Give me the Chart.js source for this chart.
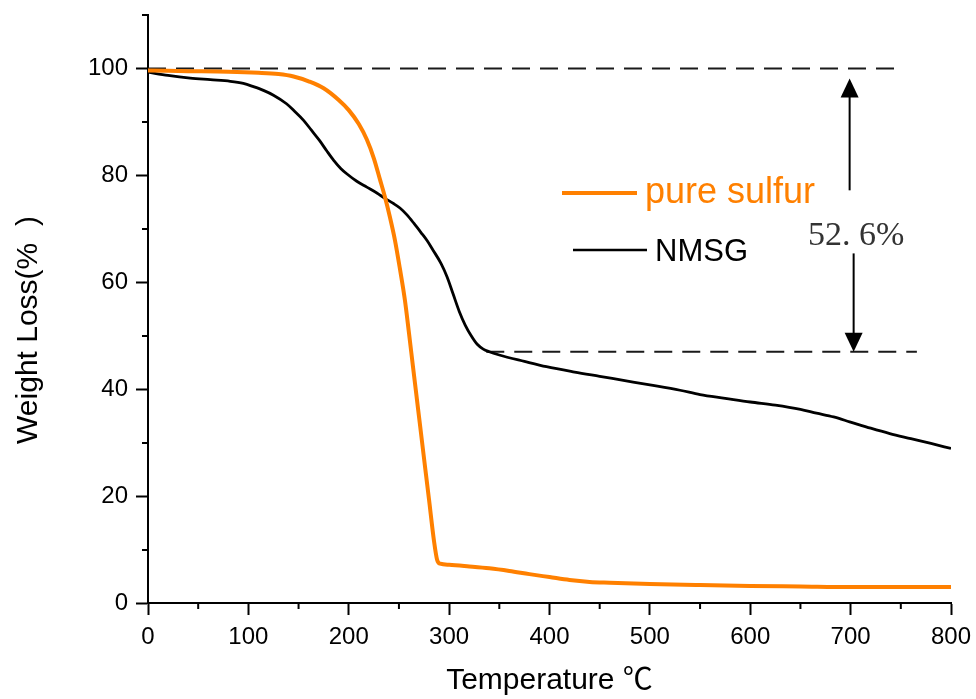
<!DOCTYPE html>
<html>
<head>
<meta charset="utf-8">
<title>TGA curves</title>
<script src="https://cdn.jsdelivr.net/npm/chart.js@4.4.0/dist/chart.umd.min.js"></script>
<style>
  html, body { margin: 0; padding: 0; background: #fff; }
  #wrap { width: 976px; height: 699px; }
</style>
</head>
<body>
<div id="wrap"><canvas id="tgaChart"></canvas></div>
<script>
// values
const sulfurTemp = [0, 40, 80, 110, 130, 145, 160, 175, 190, 200, 210, 218, 225, 231, 236, 241, 246, 251, 256, 260, 264, 269, 274, 280, 285, 288, 291, 300, 320, 340, 360, 380, 400, 420, 440, 460, 500, 550, 600, 650, 700, 800];
const sulfurWeight = [99.6, 99.5, 99.4, 99.2, 98.95, 98.5, 97.6, 96.3, 94.1, 92.2, 89.6, 86.7, 83.2, 79.3, 76.0, 72.2, 67.9, 62.5, 56.6, 50.5, 44.2, 36.4, 28.6, 19.3, 11.5, 8.1, 7.35, 7.15, 6.85, 6.5, 6.0, 5.4, 4.85, 4.3, 3.95, 3.8, 3.55, 3.35, 3.2, 3.1, 3.0, 3.0];

const nmsgTemp = [0, 20, 42, 62, 82, 95, 105, 115, 125, 138, 146, 155, 163, 171, 178, 185, 192, 198, 208, 218, 228, 236, 244, 251, 258, 265, 272, 278, 284, 292, 298, 304, 310, 316, 322, 328, 334, 340, 350, 375, 397, 425, 450, 475, 500, 530, 550, 575, 600, 625, 650, 666, 683, 699, 720, 739, 760, 780, 800];
const nmsgWeight = [99.3, 98.7, 98.2, 97.9, 97.6, 97.2, 96.6, 95.9, 95.0, 93.4, 92.0, 90.3, 88.4, 86.5, 84.6, 82.8, 81.3, 80.3, 78.9, 77.8, 76.7, 75.7, 74.8, 73.9, 72.6, 71.0, 69.3, 67.8, 66.0, 63.5, 61.0, 57.8, 54.6, 52.0, 50.0, 48.4, 47.5, 47.0, 46.4, 45.2, 44.2, 43.2, 42.4, 41.6, 40.8, 39.8, 39.0, 38.3, 37.6, 37.0, 36.2, 35.5, 34.8, 33.9, 32.7, 31.7, 30.75, 29.85, 28.9];

const xTickValues = [0, 100, 200, 300, 400, 500, 600, 700, 800];
const yTickValues = [0, 20, 40, 60, 80, 100];
const xMinorTicks = [50, 150, 250, 350, 450, 550, 650, 750];
const yMinorTicks = [10, 30, 50, 70, 90, 110];

// annotation: dashed levels and the 52.6% arrows
const topDashX = [0, 744];
const topDashY = [100, 100];
const lowDashX = [337, 766];
const lowDashY = [47, 47];
const arrowUp = [699, 77.2, 98.1];   // x, tail, tip
const arrowDown = [703, 65.4, 47.0]; // x, tail, tip
const lossLabel = '52. 6%';

const ORANGE = '#FF8000';
const toPoints = (xs, ys) => xs.map((x, i) => ({ x: x, y: ys[i] }));

const drawArrow = (ctx, xs, ys, a) => {
  const px = xs.getPixelForValue(a[0]);
  const tail = ys.getPixelForValue(a[1]);
  const tip = ys.getPixelForValue(a[2]);
  const dir = tip < tail ? 1 : -1;
  ctx.beginPath();
  ctx.moveTo(px, tail);
  ctx.lineTo(px, tip + dir * 14);
  ctx.stroke();
  ctx.beginPath();
  ctx.moveTo(px, tip);
  ctx.lineTo(px - 9, tip + dir * 19);
  ctx.lineTo(px + 9, tip + dir * 19);
  ctx.closePath();
  ctx.fill();
};

const extras = {
  id: 'extras',
  afterDraw(chart) {
    const ctx = chart.ctx;
    const xs = chart.scales.x;
    const ys = chart.scales.y;
    const area = chart.chartArea;
    ctx.save();

    // minor ticks
    ctx.strokeStyle = '#000';
    ctx.lineWidth = 2;
    ctx.beginPath();
    xMinorTicks.forEach(v => {
      const px = xs.getPixelForValue(v);
      ctx.moveTo(px, area.bottom);
      ctx.lineTo(px, area.bottom + 6);
    });
    yMinorTicks.forEach(v => {
      const py = Math.round(ys.getPixelForValue(v));
      ctx.moveTo(area.left, py);
      ctx.lineTo(area.left - 6, py);
    });
    ctx.stroke();

    // arrows
    ctx.strokeStyle = '#000';
    ctx.fillStyle = '#000';
    ctx.lineWidth = 2;
    drawArrow(ctx, xs, ys, arrowUp);
    drawArrow(ctx, xs, ys, arrowDown);

    ctx.fillStyle = '#333';
    ctx.font = '34px "Liberation Serif", "DejaVu Serif", serif';
    ctx.textAlign = 'left';
    ctx.textBaseline = 'alphabetic';
    ctx.fillText(lossLabel, 808, 245);

    // legend
    const ds = chart.data.datasets;
    ctx.strokeStyle = ds[0].borderColor;
    ctx.lineWidth = 4;
    ctx.beginPath();
    ctx.moveTo(562, 193);
    ctx.lineTo(637, 193);
    ctx.stroke();
    ctx.fillStyle = ds[0].borderColor;
    ctx.font = '36px "Liberation Sans", Arial, sans-serif';
    ctx.fillText(ds[0].label, 645, 203);

    ctx.strokeStyle = ds[1].borderColor;
    ctx.lineWidth = 2.5;
    ctx.beginPath();
    ctx.moveTo(573, 250);
    ctx.lineTo(647, 250);
    ctx.stroke();
    ctx.fillStyle = '#000';
    ctx.font = '31px "Liberation Sans", Arial, sans-serif';
    ctx.fillText(ds[1].label, 655, 261);

    // y title
    ctx.translate(29, 330);
    ctx.rotate(-Math.PI / 2);
    ctx.textAlign = 'center';
    ctx.textBaseline = 'middle';
    ctx.font = '30px "Liberation Sans", Arial, sans-serif';
    ctx.fillText('Weight Loss(%  )', 0, 0);
    ctx.restore();
  }
};

const dashStyle = {
  borderColor: '#1a1a1a',
  borderWidth: 2,
  borderDash: [18, 10],
  pointRadius: 0,
  fill: false,
  order: 3
};

new Chart(document.getElementById('tgaChart'), {
  type: 'line',
  data: {
    datasets: [
      {
        label: 'pure sulfur',
        data: toPoints(sulfurTemp, sulfurWeight),
        borderColor: ORANGE,
        borderWidth: 4,
        pointRadius: 0,
        cubicInterpolationMode: 'monotone',
        fill: false,
        order: 1
      },
      {
        label: 'NMSG',
        data: toPoints(nmsgTemp, nmsgWeight),
        borderColor: '#000',
        borderWidth: 2.8,
        pointRadius: 0,
        cubicInterpolationMode: 'monotone',
        fill: false,
        order: 2
      },
      Object.assign({ label: 'top', data: toPoints(topDashX, topDashY) }, dashStyle),
      Object.assign({ label: 'low', data: toPoints(lowDashX, lowDashY) }, dashStyle)
    ]
  },
  options: {
    responsive: true,
    maintainAspectRatio: false,
    animation: false,
    layout: { padding: { left: 0, top: 15, right: 25, bottom: 0 } },
    plugins: {
      legend: { display: false },
      tooltip: { enabled: false }
    },
    scales: {
      x: {
        type: 'linear',
        min: 0,
        max: 800,
        afterFit: (scale) => {
          scale.height = 96;
          scale.paddingLeft = 0;
          scale.paddingRight = 0;
        },
        afterBuildTicks: (scale) => { scale.ticks = xTickValues.map(v => ({ value: v })); },
        border: { display: true, color: '#000', width: 2 },
        grid: { drawOnChartArea: false, drawTicks: true, tickLength: 12, tickWidth: 2, tickColor: '#000' },
        ticks: {
          color: '#000',
          padding: 8,
          maxRotation: 0,
          font: { family: '"Liberation Sans", Arial, sans-serif', size: 24 }
        },
        title: {
          display: true,
          text: 'Temperature \u2103',
          color: '#000',
          padding: { top: 0, bottom: 0 },
          font: { family: '"Liberation Sans", "Noto Sans CJK SC", sans-serif', size: 30 }
        }
      },
      y: {
        min: 0,
        max: 110,
        afterFit: (scale) => {
          scale.width = 148;
          scale.paddingTop = 0;
          scale.paddingBottom = 0;
        },
        afterBuildTicks: (scale) => { scale.ticks = yTickValues.map(v => ({ value: v })); },
        border: { display: true, color: '#000', width: 2 },
        grid: { drawOnChartArea: false, drawTicks: true, tickLength: 12, tickWidth: 2, tickColor: '#000' },
        ticks: {
          color: '#000',
          padding: 8,
          font: { family: '"Liberation Sans", Arial, sans-serif', size: 24 }
        }
      }
    }
  },
  plugins: [extras]
});
</script>
</body>
</html>
